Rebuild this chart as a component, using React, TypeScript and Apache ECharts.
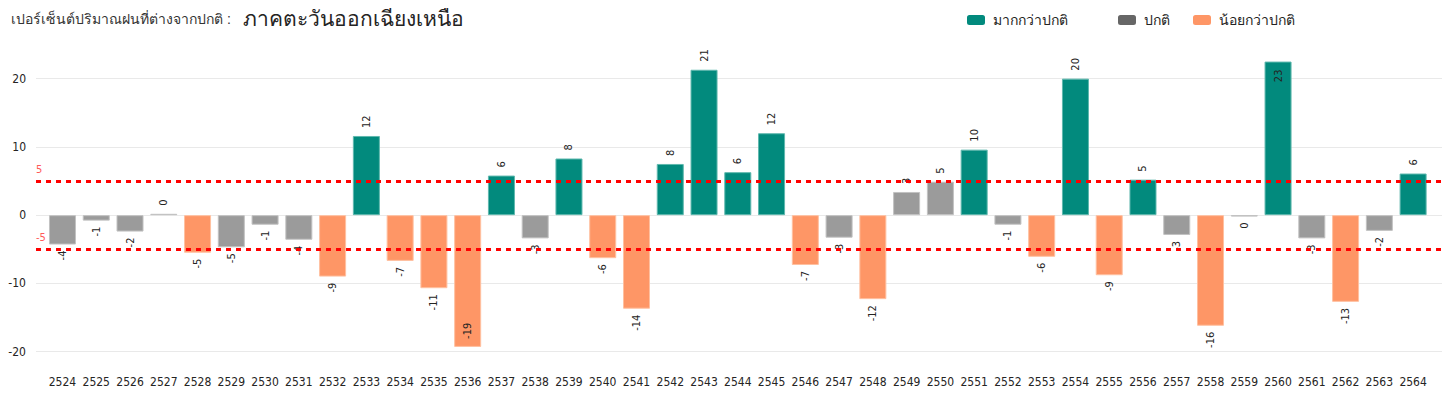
import React, { useEffect, useRef } from "react";
import * as echarts from "echarts";

const years = [
  "2524", "2525", "2526", "2527", "2528", "2529", "2530", "2531", "2532", "2533",
  "2534", "2535", "2536", "2537", "2538", "2539", "2540", "2541", "2542", "2543",
  "2544", "2545", "2546", "2547", "2548", "2549", "2550", "2551", "2552", "2553",
  "2554", "2555", "2556", "2557", "2558", "2559", "2560", "2561", "2562", "2563", "2564",
];

const values = [
  -4.3, -0.8, -2.4, 0.2, -5.5, -4.7, -1.4, -3.6, -9.0, 11.6,
  -6.7, -10.7, -19.3, 5.8, -3.4, 8.3, -6.3, -13.7, 7.5, 21.3,
  6.3, 12.0, -7.3, -3.3, -12.3, 3.4, 4.9, 9.6, -1.4, -6.1,
  20.0, -8.8, 5.2, -2.9, -16.2, -0.2, 22.5, -3.4, -12.7, -2.3, 6.1,
];

const thresholds = [5, -5];
const yTicks = [-20, -10, 0, 10, 20];

const seriesNames = ["มากกว่าปกติ", "ปกติ", "น้อยกว่าปกติ"];

const FONT = "'DejaVu Sans Condensed', 'Liberation Sans Narrow', Roboto, sans-serif";

export default function App() {
  const ref = useRef<HTMLDivElement>(null);

  useEffect(() => {
    if (!ref.current) return;
    const chart = echarts.init(ref.current, null, { renderer: "svg" });

    const labelFor = (v: number) => {
      const txt = String(Math.round(v));
      const base: any = {
        show: true,
        rotate: 90,
        fontSize: 11,
        fontFamily: FONT,
        color: "#252423",
        formatter: () => txt,
      };
      // labels that would leave the plot sit inside the bar
      if (v > 22) return { ...base, position: "insideTop", align: "right", verticalAlign: "middle", distance: 8 };
      if (v < -18) return { ...base, position: "insideBottom", align: "left", verticalAlign: "middle", distance: 8 };
      if (v >= 0) return { ...base, position: "top", align: "left", verticalAlign: "middle", distance: 8 };
      return { ...base, position: "bottom", align: "right", verticalAlign: "middle", distance: 6 };
    };

    const cat = (v: number) => (v > 5 ? 0 : v < -5 ? 2 : 1);

    const colors = ["#028A7D", "#9B9B9B", "#FE9666"];
    const legendColors = ["#028A7D", "#666666", "#FE9666"];
    const borders = ["#5FB8AE", "#C2C2C2", "#FFC0A0"];
    const legendLeft = [962, 1113, 1188];

    const barSeries = seriesNames.map((name, s) => ({
      name,
      type: "bar",
      stack: "all",
      xAxisIndex: 1,
      yAxisIndex: 1,
      barWidth: "80%",
      itemStyle: { color: legendColors[s] },
      data: values.map((v) =>
        cat(v) === s
          ? {
              value: v,
              itemStyle: { color: colors[s], borderColor: borders[s], borderWidth: 1 },
              label: labelFor(v),
            }
          : "-"
      ),
    }));

    chart.setOption({
      animation: false,
      title: {
        text: "{a|เปอร์เซ็นต์ปริมาณฝนที่ต่างจากปกติ : }{b|ภาคตะวันออกเฉียงเหนือ}",
        left: 6,
        top: 3,
        textStyle: {
          fontWeight: "normal",
          rich: {
            a: { fontSize: 14, color: "#333333", fontFamily: "sans-serif", fontWeight: "normal", padding: [0, 8, 0, 0] },
            b: { fontSize: 21, color: "#252423", fontFamily: "sans-serif", fontWeight: "normal" },
          },
        },
      },
      legend: seriesNames.map((n, i) => ({
        data: [n],
        left: legendLeft[i],
        top: 8,
        itemWidth: 18,
        itemHeight: 10,
        itemGap: 8,
        textStyle: { fontSize: 14, color: "#252423", fontFamily: "sans-serif", padding: [0, 0, 0, 3] },
      })),
      grid: [
        { left: 36, right: 2, top: 78.6, bottom: 46.3 },
        { left: 45.6, right: 14, top: 44.5, bottom: 46.3 },
      ],
      xAxis: [
        { type: "value", gridIndex: 0, min: 0, max: 1, show: false },
        {
          type: "category",
          gridIndex: 1,
          data: years,
          axisLine: { show: false },
          axisTick: { show: false },
          axisLabel: {
            margin: 24,
            fontSize: 12,
            fontFamily: FONT,
            color: "#252423",
            interval: 0,
          },
        },
      ],
      yAxis: [
        {
          type: "value",
          gridIndex: 0,
          min: yTicks[0],
          max: yTicks[yTicks.length - 1],
          interval: 10,
          axisLine: { show: false },
          axisTick: { show: false },
          axisLabel: { fontSize: 12, fontFamily: FONT, color: "#252423", margin: 10 },
          splitLine: { lineStyle: { color: "#E9E9E9", width: 1 } },
        },
        {
          type: "value",
          gridIndex: 1,
          min: -20,
          max: 25,
          show: false,
          splitLine: { show: false },
        },
      ],
      series: [
        ...barSeries,
        {
          name: "threshold",
          type: "line",
          xAxisIndex: 0,
          yAxisIndex: 0,
          data: [],
          markLine: {
            silent: true,
            symbol: "none",
            lineStyle: { color: "#FF0000", width: 3, type: [5, 5] },
            label: {
              position: "insideStartTop",
              color: "#FF5A5A",
              fontSize: 11,
              fontFamily: FONT,
              distance: [0, 6],
              formatter: (p: any) => String(p.value),
            },
            data: thresholds.map((t) => ({ yAxis: t })),
          },
        },
      ],
    });

    return () => chart.dispose();
  }, []);

  return <div ref={ref} style={{ width: 1444, height: 398, position: "absolute", left: 0, top: 0 }} />;
}
